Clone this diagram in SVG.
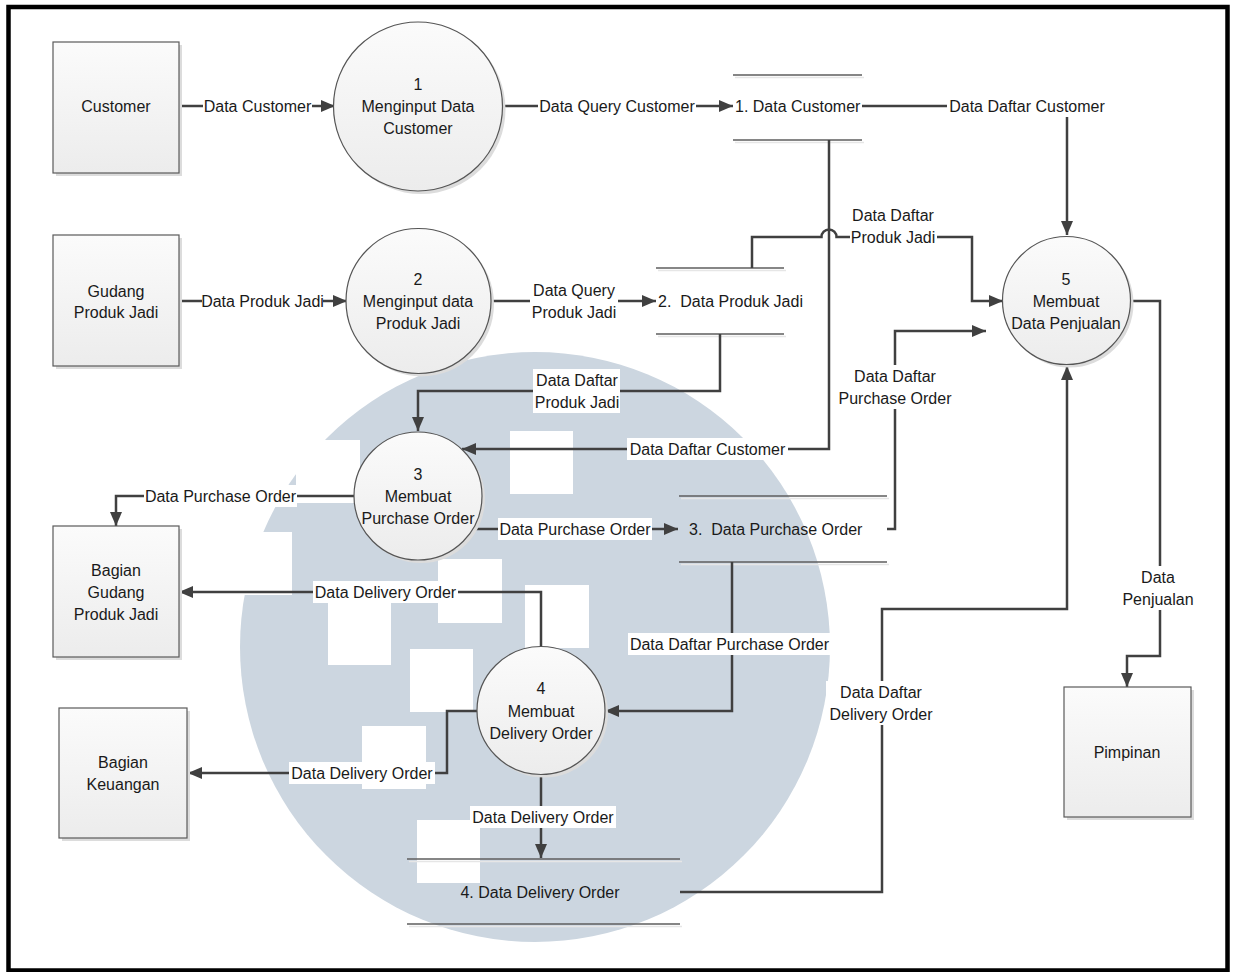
<svg xmlns="http://www.w3.org/2000/svg" width="1235" height="972" viewBox="0 0 1235 972">
  <defs>
    <linearGradient id="fillGrad" x1="0" y1="0" x2="0" y2="1">
      <stop offset="0" stop-color="#fbfbfb"/>
      <stop offset="1" stop-color="#ececec"/>
    </linearGradient>
    <marker id="arrow" markerUnits="userSpaceOnUse" markerWidth="16" markerHeight="14" refX="14" refY="6" orient="auto">
      <path d="M0,0 L14,6 L0,12 z" fill="#404040"/>
    </marker>
    <style>
      .txt { font-family: "Liberation Sans", Arial, sans-serif; font-size: 16px; fill: #1a1a1a; }
      .mid { text-anchor: middle; }
      .entity { fill: url(#fillGrad); stroke: #5a5a5a; stroke-width: 1.2; }
      .proc { fill: url(#fillGrad); stroke: #555555; stroke-width: 1.2; }
      .shadow { fill: #dcdcdc; }
      .flow { fill: none; stroke: #404040; stroke-width: 2.5; }
      .store { stroke: #5f5f5f; stroke-width: 1.3; fill: none; }
      .storeShade { stroke: #e6e6e6; stroke-width: 1.5; fill: none; }
      .lbl { fill: #ffffff; }
      .wm { fill: #ccd6e0; }
      .wmSq { fill: #ffffff; }
    </style>
  </defs>

  <rect x="0" y="0" width="1235" height="972" fill="#ffffff"/>

  <!-- background emblem -->
  <g id="emblem">
    <circle class="wm" cx="535" cy="647" r="295"/>
    <rect class="wmSq" x="296" y="440" width="64" height="63"/>
    <rect class="wmSq" x="228" y="532" width="64" height="63"/>
    <rect class="wmSq" x="510" y="431" width="63" height="63"/>
    <rect class="wmSq" x="438" y="559" width="64" height="64"/>
    <rect class="wmSq" x="525" y="585" width="64" height="63"/>
    <rect class="wmSq" x="328" y="601" width="63" height="64"/>
    <rect class="wmSq" x="410" y="649" width="63" height="63"/>
    <rect class="wmSq" x="362" y="726" width="64" height="63"/>
    <rect class="wmSq" x="417" y="820" width="63" height="63"/>
  </g>

  <!-- outer frame -->
  <rect x="8.5" y="7" width="1219" height="963.5" fill="none" stroke="#000000" stroke-width="4.5"/>

  <!-- data stores -->
  <g id="store1">
    <path class="storeShade" d="M735,77.5 H864 M735,142.5 H864"/>
    <path class="store" d="M733,75 H862 M733,140 H862"/>
    <text class="txt" x="735" y="112">1. Data Customer</text>
  </g>
  <g id="store2">
    <path class="storeShade" d="M658,270.5 H786 M658,336.5 H786"/>
    <path class="store" d="M656,268 H784 M656,334 H784"/>
    <text class="txt" x="658" y="307" xml:space="preserve">2.  Data Produk Jadi</text>
  </g>
  <g id="store3">
    <path class="storeShade" d="M681,498.5 H889 M681,564.5 H889"/>
    <path class="store" d="M679,496 H887 M679,562 H887"/>
    <text class="txt" x="689" y="535" xml:space="preserve">3.  Data Purchase Order</text>
  </g>
  <g id="store4">
    <path class="storeShade" d="M409,861.5 H682 M409,926.5 H682"/>
    <path class="store" d="M407,859 H680 M407,924 H680"/>
    <text class="txt mid" x="540" y="898">4. Data Delivery Order</text>
  </g>

  <!-- data flows -->
  <g id="connectors">
    <path class="flow" d="M179,106 H335" marker-end="url(#arrow)"/>
    <path class="flow" d="M179,301 H347" marker-end="url(#arrow)"/>
    <path class="flow" d="M501,106 H733" marker-end="url(#arrow)"/>
    <path class="flow" d="M491,301 H656" marker-end="url(#arrow)"/>
    <path class="flow" d="M862,106 H1067 V235" marker-end="url(#arrow)"/>
    <path class="flow" d="M829,140 V449 H462" marker-end="url(#arrow)"/>
    <path class="flow" d="M752,268 V237 H821.5 A7.5,7.5 0 0 1 836.5,237 H972 V301 H1003" marker-end="url(#arrow)"/>
    <path class="flow" d="M720,334 V391 H418 V431" marker-end="url(#arrow)"/>
    <path class="flow" d="M354,496 H116 V526" marker-end="url(#arrow)"/>
    <path class="flow" d="M472,529 H678" marker-end="url(#arrow)"/>
    <path class="flow" d="M887,529 H895 V331 H986" marker-end="url(#arrow)"/>
    <path class="flow" d="M732,562 V711 H605" marker-end="url(#arrow)"/>
    <path class="flow" d="M541,646 V592 H179" marker-end="url(#arrow)"/>
    <path class="flow" d="M477,711 H447 V773 H188" marker-end="url(#arrow)"/>
    <path class="flow" d="M541,776 V858" marker-end="url(#arrow)"/>
    <path class="flow" d="M680,892 H882 V609 H1067 V366" marker-end="url(#arrow)"/>
    <path class="flow" d="M1130,301 H1160 V656 H1127 V687" marker-end="url(#arrow)"/>

    <!-- flow labels -->
    <rect class="lbl" x="203" y="95" width="109" height="22"/>
    <text class="txt mid" x="257.5" y="112">Data Customer</text>

    <rect class="lbl" x="202" y="290" width="121" height="22"/>
    <text class="txt mid" x="262.5" y="307">Data Produk Jadi</text>

    <rect class="lbl" x="538" y="95" width="158" height="22"/>
    <text class="txt mid" x="617" y="112">Data Query Customer</text>

    <rect class="lbl" x="530" y="279" width="88" height="44"/>
    <text class="txt mid" x="574" y="296">Data Query</text>
    <text class="txt mid" x="574" y="318">Produk Jadi</text>

    <rect class="lbl" x="947" y="95" width="160" height="22"/>
    <text class="txt mid" x="1027" y="112">Data Daftar Customer</text>

    <rect class="lbl" x="850" y="204" width="87" height="44"/>
    <text class="txt mid" x="893" y="221">Data Daftar</text>
    <text class="txt mid" x="893" y="243">Produk Jadi</text>

    <rect class="lbl" x="533" y="369" width="87" height="44"/>
    <text class="txt mid" x="577" y="386">Data Daftar</text>
    <text class="txt mid" x="577" y="408">Produk Jadi</text>

    <rect class="lbl" x="627" y="438" width="161" height="22"/>
    <text class="txt mid" x="707.5" y="455">Data Daftar Customer</text>

    <rect class="lbl" x="837" y="365" width="116" height="44"/>
    <text class="txt mid" x="895" y="382">Data Daftar</text>
    <text class="txt mid" x="895" y="404">Purchase Order</text>

    <rect class="lbl" x="144" y="485" width="153" height="22"/>
    <text class="txt mid" x="220.5" y="502">Data Purchase Order</text>

    <rect class="lbl" x="498" y="518" width="154" height="22"/>
    <text class="txt mid" x="575" y="535">Data Purchase Order</text>

    <rect class="lbl" x="313" y="581" width="145" height="22"/>
    <text class="txt mid" x="385.5" y="598">Data Delivery Order</text>

    <rect class="lbl" x="628" y="633" width="203" height="22"/>
    <text class="txt mid" x="729.5" y="650">Data Daftar Purchase Order</text>

    <rect class="lbl" x="289" y="762" width="146" height="22"/>
    <text class="txt mid" x="362" y="779">Data Delivery Order</text>

    <rect class="lbl" x="470" y="806" width="146" height="22"/>
    <text class="txt mid" x="543" y="823">Data Delivery Order</text>

    <rect class="lbl" x="826" y="681" width="112" height="44"/>
    <text class="txt mid" x="881" y="698">Data Daftar</text>
    <text class="txt mid" x="881" y="720">Delivery Order</text>

    <rect class="lbl" x="1120" y="566" width="76" height="44"/>
    <text class="txt mid" x="1158" y="583">Data</text>
    <text class="txt mid" x="1158" y="605">Penjualan</text>
  </g>

  <!-- external entities -->
  <g id="customer">
    <rect class="shadow" x="56" y="45" width="126" height="131"/>
    <rect class="entity" x="53" y="42" width="126" height="131"/>
    <text class="txt mid" x="116" y="112">Customer</text>
  </g>
  <g id="gudang-produk-jadi">
    <rect class="shadow" x="56" y="238" width="126" height="131"/>
    <rect class="entity" x="53" y="235" width="126" height="131"/>
    <text class="txt mid" x="116" y="297">Gudang</text>
    <text class="txt mid" x="116" y="318">Produk Jadi</text>
  </g>
  <g id="bagian-gudang">
    <rect class="shadow" x="56" y="529" width="126" height="131"/>
    <rect class="entity" x="53" y="526" width="126" height="131"/>
    <text class="txt mid" x="116" y="576">Bagian</text>
    <text class="txt mid" x="116" y="598">Gudang</text>
    <text class="txt mid" x="116" y="620">Produk Jadi</text>
  </g>
  <g id="bagian-keuangan">
    <rect class="shadow" x="62" y="711" width="128" height="130"/>
    <rect class="entity" x="59" y="708" width="128" height="130"/>
    <text class="txt mid" x="123" y="768">Bagian</text>
    <text class="txt mid" x="123" y="790">Keuangan</text>
  </g>
  <g id="pimpinan">
    <rect class="shadow" x="1067" y="690" width="127" height="130"/>
    <rect class="entity" x="1064" y="687" width="127" height="130"/>
    <text class="txt mid" x="1127" y="758">Pimpinan</text>
  </g>

  <!-- processes -->
  <g id="proc1">
    <circle class="shadow" cx="421" cy="109.5" r="84.5"/>
    <circle class="proc" cx="418" cy="106.5" r="84.5"/>
    <text class="txt mid" x="418" y="90">1</text>
    <text class="txt mid" x="418" y="112">Menginput Data</text>
    <text class="txt mid" x="418" y="134">Customer</text>
  </g>
  <g id="proc2">
    <circle class="shadow" cx="421.5" cy="304" r="72.5"/>
    <circle class="proc" cx="418.5" cy="301" r="72.5"/>
    <text class="txt mid" x="418" y="285">2</text>
    <text class="txt mid" x="418" y="307">Menginput data</text>
    <text class="txt mid" x="418" y="329">Produk Jadi</text>
  </g>
  <g id="proc3">
    <circle class="shadow" cx="421" cy="499" r="64"/>
    <circle class="proc" cx="418" cy="496" r="64"/>
    <text class="txt mid" x="418" y="480">3</text>
    <text class="txt mid" x="418" y="502">Membuat</text>
    <text class="txt mid" x="418" y="524">Purchase Order</text>
  </g>
  <g id="proc4">
    <circle class="shadow" cx="544" cy="713.5" r="64"/>
    <circle class="proc" cx="541" cy="710.5" r="64"/>
    <text class="txt mid" x="541" y="694">4</text>
    <text class="txt mid" x="541" y="717">Membuat</text>
    <text class="txt mid" x="541" y="739">Delivery Order</text>
  </g>
  <g id="proc5">
    <circle class="shadow" cx="1069.5" cy="303.5" r="64"/>
    <circle class="proc" cx="1066.5" cy="300.5" r="64"/>
    <text class="txt mid" x="1066" y="285">5</text>
    <text class="txt mid" x="1066" y="307">Membuat</text>
    <text class="txt mid" x="1066" y="329">Data Penjualan</text>
  </g>
</svg>
